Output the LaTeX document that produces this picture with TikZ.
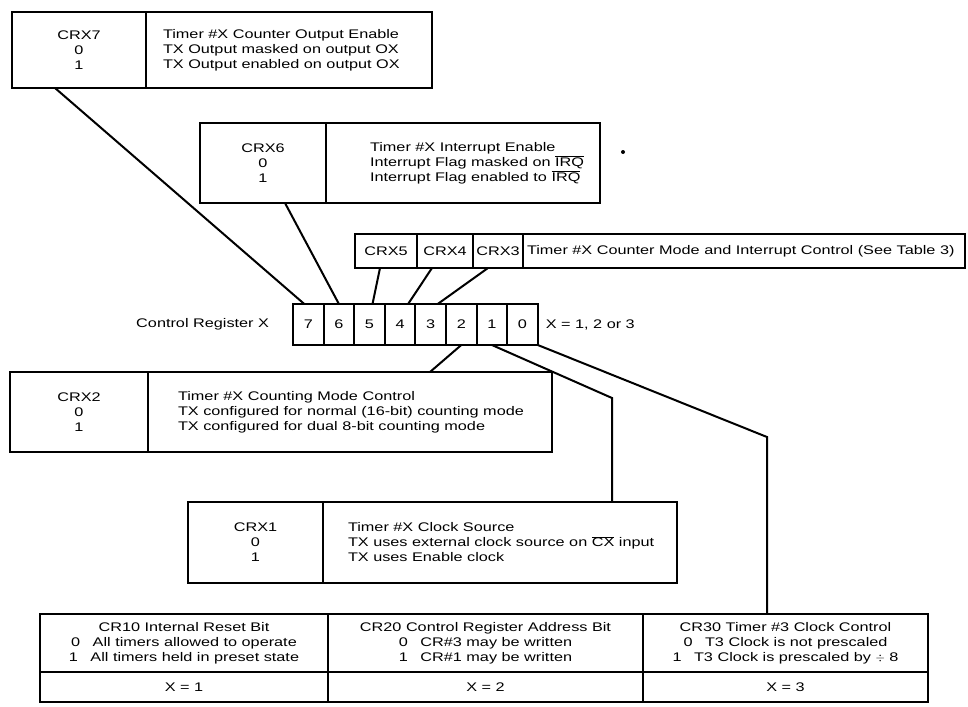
\documentclass[tikz,border=0pt]{standalone}
\usepackage{fontspec}
\setmainfont{Liberation Sans}[FakeStretch=1.3]
\usetikzlibrary{calc}
\newcommand{\ovl}[1]{$\overline{\mbox{#1}}$}

\begin{document}
\begin{tikzpicture}[x=1pt,y=-1pt,line width=2pt,
    every node/.style={inner sep=0pt,outer sep=0pt,font=\fontsize{12.5}{15}\selectfont},
    cell/.style={draw,line width=2pt,anchor=north west,align=center,minimum width=#1},
    desc/.style={anchor=west,align=left}]
  \useasboundingbox (0,0) rectangle (968,706);

  \node[cell=134pt,minimum height=76pt] (c7a) at (12,12) {CRX7\\0\\1};
  \node[cell=286pt,minimum height=76pt] (c7b) at (146,12) {};
  \node[desc] (t7) at ([xshift=17pt]c7b.west) {Timer \#X Counter Output Enable\\TX Output masked on output OX\\TX Output enabled on output OX};

  \node[cell=126pt,minimum height=80pt] (c6a) at (200,123) {CRX6\\0\\1};
  \node[cell=274pt,minimum height=80pt] (c6b) at (326,123) {};
  \node[desc] (t6) at ([xshift=44pt]c6b.west) {Timer \#X Interrupt Enable\\Interrupt Flag masked on \ovl{IRQ}\\Interrupt Flag enabled to \ovl{IRQ}};
  \fill (623,152) circle (2pt);

  \node[cell=62pt,minimum height=34pt] (c5) at (355,234) {CRX5};
  \node[cell=56pt,minimum height=34pt] (c4) at (417,234) {CRX4};
  \node[cell=50pt,minimum height=34pt] (c3) at (473,234) {CRX3};
  \node[cell=442pt,minimum height=34pt] (c543) at (523,234) {};
  \node[desc] (t543) at ([xshift=4pt]c543.west) {Timer \#X Counter Mode and Interrupt Control (See Table 3)};

  \foreach \b [count=\i from 0] in {7,...,0}
    \node[cell=30.6pt,minimum height=41pt] (r\b) at (293+30.6*\i,304) {\b};
  \node[anchor=east] (reg) at ([xshift=-24pt]r7.west) {Control Register X};
  \node[anchor=west] (xval) at ([xshift=8pt]r0.east) {X = 1, 2 or 3};

  \node[cell=138pt,minimum height=80pt] (c2a) at (10,372) {CRX2\\0\\1};
  \node[cell=404pt,minimum height=80pt] (c2b) at (148,372) {};
  \node[desc] (t2) at ([xshift=30pt]c2b.west) {Timer \#X Counting Mode Control\\TX configured for normal (16-bit) counting mode\\TX configured for dual 8-bit counting mode};

  \node[cell=135pt,minimum height=81pt] (c1a) at (188,502) {CRX1\\0\\1};
  \node[cell=354pt,minimum height=81pt] (c1b) at (323,502) {};
  \node[desc] (t1) at ([xshift=25pt]c1b.west) {Timer \#X Clock Source\\TX uses external clock source on \ovl{CX} input\\TX uses Enable clock};

  \node[cell=288pt,minimum height=58pt] (x1a) at (40,614) {CR10 Internal Reset Bit\\0\quad All timers allowed to operate\\1\quad All timers held in preset state};
  \node[cell=315pt,minimum height=58pt] (x2a) at (328,614) {CR20 Control Register Address Bit\\0\quad CR\#3 may be written\\1\quad CR\#1 may be written};
  \node[cell=285pt,minimum height=58pt] (x3a) at (643,614) {CR30 Timer \#3 Clock Control\\0\quad T3 Clock is not prescaled\\1\quad T3 Clock is prescaled by $\div$ 8};
  \node[cell=288pt,minimum height=30pt] (x1b) at (40,672) {X = 1};
  \node[cell=315pt,minimum height=30pt] (x2b) at (328,672) {X = 2};
  \node[cell=285pt,minimum height=30pt] (x3b) at (643,672) {X = 3};

  \coordinate (k1) at (612,398);
  \coordinate (k0) at (767,437);
  \draw ([xshift=-24pt]c7a.south) -- ([xshift=-4pt]r7.north);
  \draw ([xshift=22pt]c6a.south) -- (r6.north);
  \draw ([xshift=-6pt]c5.south) -- ([xshift=3pt]r5.north);
  \draw ([xshift=-13pt]c4.south) -- ([xshift=8pt]r4.north);
  \draw ([xshift=-10pt]c3.south) -- ([xshift=7pt]r3.north);
  \draw (r2.south) -- ([xshift=80pt]c2b.north);
  \draw (r1.south) -- (k1) -- (k1 |- c1b.north);
  \draw (r0.south east) -- (k0) -- (k0 |- x3a.north);
\end{tikzpicture}
\end{document}
